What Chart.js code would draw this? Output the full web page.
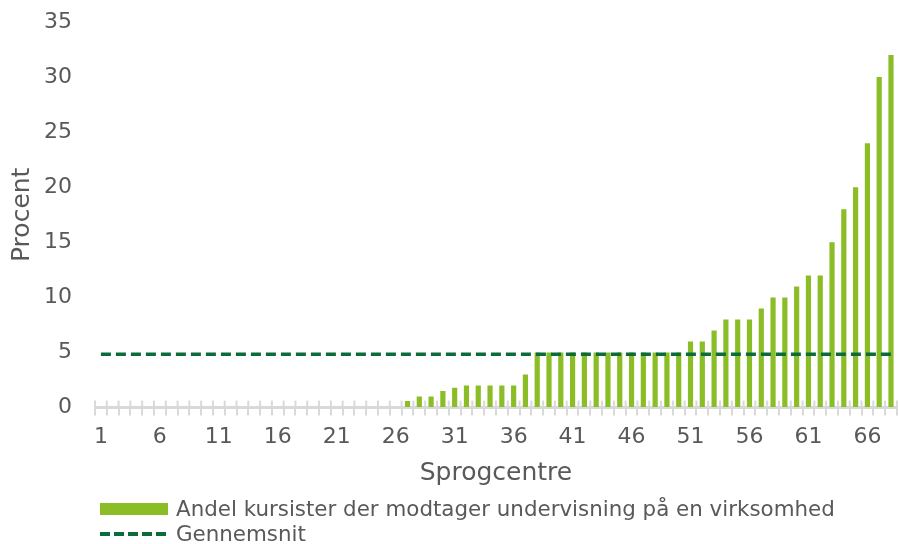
<!DOCTYPE html>
<html>
<head>
<meta charset="utf-8">
<script src="https://cdn.jsdelivr.net/npm/chart.js@4.4.1/dist/chart.umd.min.js"></script>
<style>
  html, body { margin: 0; padding: 0; background: #fff; }
  #wrap { position: relative; width: 899px; height: 544px; }
  #legend { position: absolute; left: 100px; top: 496px; font-family: "DejaVu Sans", sans-serif; font-size: 21.4px; color: #595959; }
  .row { display: flex; align-items: center; height: 25px; }
  .box { width: 68px; height: 12px; background: #8bbd27; margin-right: 8px; }
  .dash { width: 68px; height: 4px; margin-right: 8px;
    background: repeating-linear-gradient(90deg, #0b6b3a 0 10px, transparent 10px 14px); }
</style>
</head>
<body>
<div id="wrap">
  <canvas id="chart" width="899" height="544"></canvas>
  <div id="legend">
    <div class="row"><span class="box"></span><span>Andel kursister der modtager undervisning på en virksomhed</span></div>
    <div class="row"><span class="dash"></span><span>Gennemsnit</span></div>
  </div>
</div>
<script>
// sprogcentre 1..68, sorteret efter andel
const categories = [
  "1","2","3","4","5","6","7","8","9","10","11","12","13","14","15","16","17",
  "18","19","20","21","22","23","24","25","26","27","28","29","30","31","32","33","34",
  "35","36","37","38","39","40","41","42","43","44","45","46","47","48","49","50","51",
  "52","53","54","55","56","57","58","59","60","61","62","63","64","65","66","67","68"
];

// andel kursister der modtager undervisning på en virksomhed (%)
const shareValues = [
  0,0,0,0,0,0,0,0,0,0,0,0,0,0,0,0,0,
  0,0,0,0,0,0,0,0,0,0.6,1,1,1.5,1.8,2,2,2,
  2,2,3,5,5,5,5,5,5,5,5,5,5,5,5,5,6,
  6,7,8,8,8,9,10,10,11,12,12,15,18,20,24,30,32
];

// gennemsnit (%)
const avgValues = [
  4.85,4.85,4.85,4.85,4.85,4.85,4.85,4.85,4.85,4.85,4.85,4.85,4.85,4.85,4.85,4.85,4.85,
  4.85,4.85,4.85,4.85,4.85,4.85,4.85,4.85,4.85,4.85,4.85,4.85,4.85,4.85,4.85,4.85,4.85,
  4.85,4.85,4.85,4.85,4.85,4.85,4.85,4.85,4.85,4.85,4.85,4.85,4.85,4.85,4.85,4.85,4.85,
  4.85,4.85,4.85,4.85,4.85,4.85,4.85,4.85,4.85,4.85,4.85,4.85,4.85,4.85,4.85,4.85,4.85
];

const yTicks = [0, 5, 10, 15, 20, 25, 30, 35];

const gray = "#595959";
Chart.defaults.font.family = "'DejaVu Sans', sans-serif";
Chart.defaults.color = gray;

// små streger over x-aksen (Chart.js tegner kun nedad)
const tickUp = {
  id: "tickUp",
  beforeDatasetsDraw(chart) {
    const x = chart.scales.x;
    const n = categories.length;
    const w = x.getPixelForValue(1) - x.getPixelForValue(0);
    const ctx = chart.ctx;
    ctx.save();
    ctx.strokeStyle = "#d9d9d9";
    ctx.lineWidth = 2;
    for (let i = 0; i <= n; i++) {
      const px = i < n ? x.getPixelForValue(i) - w / 2 : x.getPixelForValue(n - 1) + w / 2;
      ctx.beginPath();
      ctx.moveTo(px, x.top - 7);
      ctx.lineTo(px, x.top);
      ctx.stroke();
    }
    ctx.restore();
  }
};

const ctx = document.getElementById("chart").getContext("2d");
new Chart(ctx, {
  type: "bar",
  data: {
    labels: categories,
    datasets: [
      {
        type: "line",
        label: "Gennemsnit",
        data: avgValues,
        borderColor: "#0b6b3a",
        borderWidth: 3.5,
        borderDash: [10, 5],
        pointRadius: 0,
        fill: false,
        order: 0
      },
      {
        label: "Andel kursister der modtager undervisning på en virksomhed",
        data: shareValues,
        backgroundColor: "#8bbd27",
        barPercentage: 0.44,
        categoryPercentage: 1,
        order: 1
      }
    ]
  },
  options: {
    responsive: false,
    animation: false,
    layout: { padding: { top: 22, right: 2, bottom: 56, left: 5 } },
    plugins: {
      legend: { display: false },
      tooltip: { enabled: false }
    },
    scales: {
      x: {
        grid: { offset: true, drawOnChartArea: false, color: "#d9d9d9", lineWidth: 2, tickLength: 8 },
        border: { color: "#d9d9d9", width: 3 },
        ticks: {
          autoSkip: false,
          maxRotation: 0,
          padding: 8,
          font: { size: 22 },
          callback: (v, i) => (i % 5 === 0 ? categories[i] : "")
        },
        title: { display: true, text: "Sprogcentre", font: { size: 25 }, padding: { top: 0, bottom: 0 } }
      },
      y: {
        min: 0,
        max: 35,
        afterBuildTicks: axis => { axis.ticks = yTicks.map(v => ({ value: v })); },
        afterFit: axis => { axis.width = 90; },
        grid: { drawOnChartArea: false, drawTicks: true, tickLength: 23, color: "rgba(0,0,0,0)" },
        border: { display: false },
        ticks: { padding: 0, font: { size: 22 } },
        title: { display: true, text: "Procent", font: { size: 25 }, padding: { top: 2, bottom: 0 } }
      }
    }
  },
  plugins: [tickUp]
});
</script>
</body>
</html>
